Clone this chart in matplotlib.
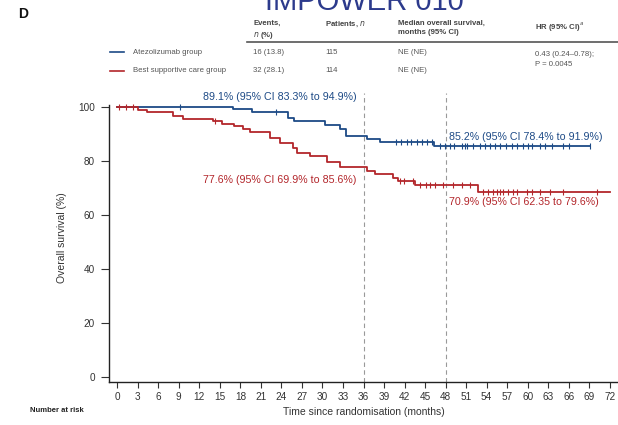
import numpy as np
import matplotlib
matplotlib.use("Agg")
import matplotlib.pyplot as plt

plt.rcParams['font.family'] = ['Liberation Sans', 'DejaVu Sans']

# Kaplan-Meier steps (months, survival % after the step)
atezo_times = [16.9, 19.7, 25.0, 25.8, 30.3, 32.6, 33.4, 36.5, 38.4, 46.3]
atezo_surv = [99.1, 97.8, 95.7, 94.6, 93.2, 91.6, 89.1, 88.0, 86.8, 85.2]
atezo_end = 69.1
atezo_censor = [9.2, 23.2, 40.8, 41.5, 42.3, 43.0, 43.8, 44.6, 45.3, 46.0,
                47.2, 47.9, 48.6, 49.3, 50.4, 50.8, 51.2, 52.0, 53.0, 53.7,
                54.5, 55.2, 55.9, 56.9, 57.7, 58.4, 59.3, 60.0, 60.7, 61.8,
                62.5, 63.5, 65.1, 66.1, 69.1]

bsc_times = [3.1, 4.4, 8.2, 9.6, 14.0, 15.3, 17.0, 18.4, 19.4, 22.3, 23.8,
             25.7, 26.3, 28.2, 30.7, 32.6, 36.5, 37.7, 40.3, 41.0, 43.5, 52.7]
bsc_surv = [98.8, 97.8, 96.3, 95.3, 94.5, 93.5, 92.9, 91.7, 90.4, 88.2, 86.4,
            84.5, 82.7, 81.5, 79.6, 77.6, 76.3, 75.1, 73.6, 72.4, 70.9, 68.5]
bsc_end = 72.0
bsc_censor = [0.3, 1.3, 2.3, 14.3, 41.3, 41.9, 43.2, 44.3, 45.1, 45.7, 46.4,
              47.6, 49.1, 50.4, 51.5, 53.4, 54.2, 54.9, 55.5, 55.9, 56.4,
              57.1, 57.8, 58.5, 59.9, 60.7, 61.8, 63.2, 65.1, 70.2]

x_ticks = list(range(0, 73, 3))
y_ticks = [0, 20, 40, 60, 80, 100]
landmarks = [36, 48]

blue = '#1d4a86'
red = '#b3262b'
txt = '#333333'

fig = plt.figure(figsize=(6.18, 4.25), dpi=100)
ax = fig.add_axes([109 / 618, 1 - 382 / 425, 509 / 618, (382 - 93) / 425])


def km_curve(times, surv, end):
    t = np.r_[0, times, end]
    s = np.r_[100, surv, surv[-1]]
    return t, s


def level_at(times, surv, pts):
    s = np.r_[100, surv]
    idx = np.searchsorted(times, pts, side='right')
    return s[idx]


for times, surv, end, cens, col in [(atezo_times, atezo_surv, atezo_end, atezo_censor, blue),
                                    (bsc_times, bsc_surv, bsc_end, bsc_censor, red)]:
    t, s = km_curve(times, surv, end)
    ax.step(t, s, where='post', color=col, lw=1.3, zorder=3)
    ax.plot(cens, level_at(times, surv, cens), ls='none', marker='|',
            ms=4, mew=0.8, color=col, zorder=3)

for m in landmarks:
    ax.axvline(m, color='#999999', ls=(0, (4, 3)), lw=0.8, zorder=1)

# landmark annotations
ax.text(35.0, 103.6, '89.1% (95% CI 83.3% to 94.9%)', color=blue, fontsize=7.7,
        ha='right', va='center')
ax.text(35.0, 72.9, '77.6% (95% CI 69.9% to 85.6%)', color=red, fontsize=7.7,
        ha='right', va='center')
ax.text(48.5, 88.8, '85.2% (95% CI 78.4% to 91.9%)', color=blue, fontsize=7.7,
        ha='left', va='center')
ax.text(48.5, 64.7, '70.9% (95% CI 62.35 to 79.6%)', color=red, fontsize=7.7,
        ha='left', va='center')

ax.set_xlim(-1.2, 73.2)
ax.set_ylim(-2, 105)
ax.set_xticks(x_ticks)
ax.set_yticks(y_ticks)
ax.tick_params(labelsize=7.2, colors=txt, width=0.8)
ax.tick_params(axis='y', length=6, pad=4)
ax.tick_params(axis='x', length=4)
for sp in ['top', 'right']:
    ax.spines[sp].set_visible(False)
ax.spines['left'].set_bounds(-2, 100.6)
for sp in ['left', 'bottom']:
    ax.spines[sp].set_linewidth(1.0)
    ax.spines[sp].set_color('#222222')
ax.set_xlabel('Time since randomisation (months)', fontsize=7.5, color=txt, labelpad=3)
ax.set_ylabel('Overall survival (%)', fontsize=7.5, color=txt, labelpad=8)

# header / table above the plot
fig.text(18 / 618, 1 - 14 / 425, 'D', fontsize=10, weight='bold', va='center', color='#111111')
fig.text(364 / 618, 1 - 10 / 425, 'IMPOWER 010', fontsize=21, color='#2c3a8c',
         ha='center', va='baseline')

cols = [253, 325, 398, 535]
heads = ['Events,\n$n$ (%)', 'Patients, $n$', 'Median overall survival,\nmonths (95% CI)', 'HR (95% CI)$^a$']
for x, h in zip(cols, heads):
    fig.text(x / 618, 1 - 20 / 425, h, fontsize=5.6, weight='bold', color='#444444',
             va='top', ha='left', linespacing=1.4)
fig.add_artist(plt.Line2D([247 / 618, 1.0], [1 - 42 / 425] * 2, color='#555555', lw=1.2))

groups = ['Atezolizumab group', 'Best supportive care group']
events = ['16 (13.8)', '32 (28.1)']
patients = ['115', '114']
median = ['NE (NE)', 'NE (NE)']
for i, (g, e, p, m, col) in enumerate(zip(groups, events, patients, median, [blue, red])):
    yy = 1 - (52 + 19 * i) / 425
    fig.add_artist(plt.Line2D([110 / 618, 124 / 618], [yy, yy], color=col, lw=1.2))
    fig.text(133 / 618, yy, g, fontsize=5.6, color='#555555', va='center')
    fig.text(cols[0] / 618, yy, e, fontsize=5.6, color='#555555', va='center')
    fig.text(cols[1] / 618, yy, p, fontsize=5.6, color='#555555', va='center')
    fig.text(cols[2] / 618, yy, m, fontsize=5.6, color='#555555', va='center')
fig.text(cols[3] / 618, 1 - 55 / 425, '0.43 (0.24\u20130.78);', fontsize=5.6, color='#555555', va='center')
fig.text(cols[3] / 618, 1 - 64 / 425, 'P = 0.0045', fontsize=5.6, color='#555555', va='center')

fig.text(30 / 618, 1 - 411 / 425, 'Number at risk', fontsize=5.5, weight='bold', color='#222222',
         va='center')

fig.savefig('out.png', dpi=100)
